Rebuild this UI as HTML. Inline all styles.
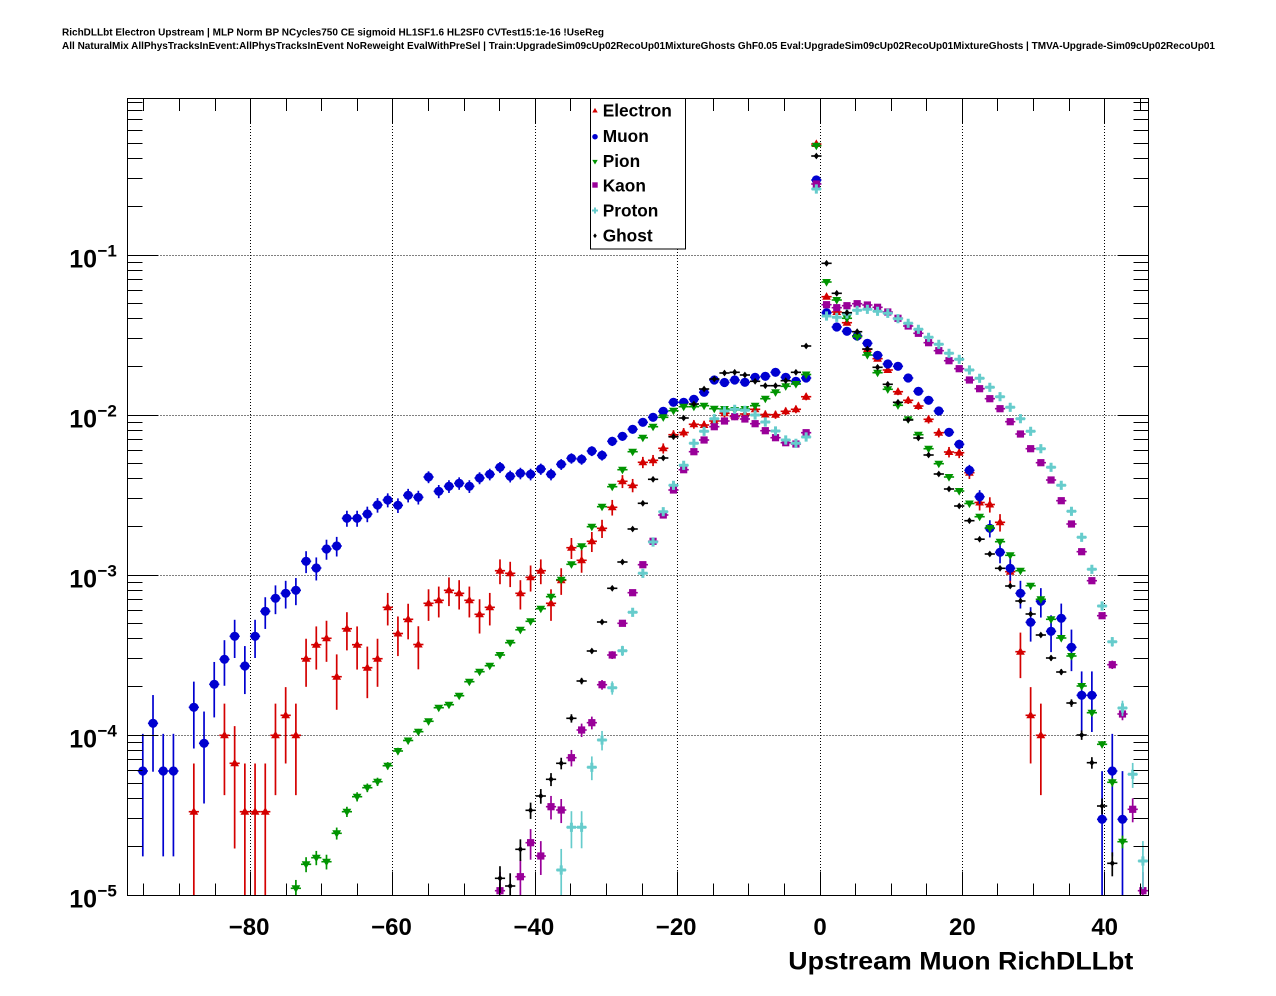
<!DOCTYPE html>
<html><head><meta charset="utf-8">
<style>
html,body{margin:0;padding:0;background:#fff;}
svg{display:block;}
text{font-family:"Liberation Sans",Arial,sans-serif;font-weight:bold;fill:#000;}
</style></head><body>
<svg id="c" width="1276" height="996" viewBox="0 0 1276 996" xmlns="http://www.w3.org/2000/svg">
<defs><clipPath id="fr"><rect x="127.5" y="99" width="1021" height="796.5"/></clipPath></defs>
<rect width="1276" height="996" fill="#fff"/>
<text x="62" y="35.5" font-size="10" textLength="542" lengthAdjust="spacingAndGlyphs">RichDLLbt Electron Upstream | MLP Norm BP NCycles750 CE sigmoid HL1SF1.6 HL2SF0 CVTest15:1e-16 !UseReg</text>
<text x="62" y="49" font-size="10" textLength="1153" lengthAdjust="spacingAndGlyphs">All NaturalMix AllPhysTracksInEvent:AllPhysTracksInEvent NoReweight EvalWithPreSel | Train:UpgradeSim09cUp02RecoUp01MixtureGhosts GhF0.05 Eval:UpgradeSim09cUp02RecoUp01MixtureGhosts | TMVA-Upgrade-Sim09cUp02RecoUp01</text>
<g id="grid" shape-rendering="crispEdges"></g>
<g id="data" clip-path="url(#fr)"></g>
<g id="axes" shape-rendering="crispEdges"></g>
<g id="labels"></g>
<text x="788.3" y="969.3" font-size="25" textLength="345" lengthAdjust="spacingAndGlyphs">Upstream Muon RichDLLbt</text>
<g id="legend">
<rect x="590.5" y="98.5" width="95" height="150.5" fill="#fff" stroke="#000" stroke-width="1"/>
<text x="602.7" y="116.7" font-size="17.3">Electron</text>
<text x="602.7" y="142" font-size="17.3">Muon</text>
<text x="602.7" y="167" font-size="17.3">Pion</text>
<text x="602.7" y="191.7" font-size="17.3">Kaon</text>
<text x="602.7" y="216.7" font-size="17.3">Proton</text>
<text x="602.7" y="241.7" font-size="17.3">Ghost</text>
</g>
</svg>
<script>
(function(){
const NS="http://www.w3.org/2000/svg";
function el(tag,attrs,parent){const e=document.createElementNS(NS,tag);for(const k in attrs)e.setAttribute(k,attrs[k]);parent.appendChild(e);return e;}
const X0=127.5,BW=10.205,YB=895,PD=160,FT=99,FB=895.5,FL=127.5,FR=1148.5;
function bx(i){return X0+(i+0.5)*BW;}
function yv(y){return Math.pow(10,-5+(YB-y)/PD);}
function vy(v){return YB-(Math.log10(v)+5)*PD;}
function xv(v){return 820+7.117*v;}
function px(v){return Math.round(v-0.5)+0.5;}
const grid=document.getElementById('grid'),data=document.getElementById('data'),axes=document.getElementById('axes'),labels=document.getElementById('labels'),legend=document.getElementById('legend');

// grid
[-80,-60,-40,-20,0,20,40].forEach(v=>{const x=px(xv(v));el('line',{x1:x,y1:FT,x2:x,y2:FB,stroke:'#000','stroke-width':1,'stroke-dasharray':'1 2'},grid);});
for(let d=-5;d<=-1;d++){const y=px(YB-(d+5)*PD);el('line',{x1:FL,y1:y,x2:FR,y2:y,stroke:'#000','stroke-width':1,'stroke-dasharray':'1 2'},grid);}

function marker(type,x,y,color,s,parent){
  s=s||1;
  if(type==='tu'){el('polygon',{points:`${x},${y-4.6*s} ${x-4.4*s},${y+3*s} ${x+4.4*s},${y+3*s}`,fill:color},parent);}
  else if(type==='td'){el('polygon',{points:`${x-4.4*s},${y-3*s} ${x+4.4*s},${y-3*s} ${x},${y+4.6*s}`,fill:color},parent);}
  else if(type==='c'){el('circle',{cx:x,cy:y,r:4.6*s,fill:color},parent);}
  else if(type==='sq'){el('rect',{x:x-3.6*s,y:y-3.6*s,width:7.2*s,height:7.2*s,fill:color},parent);}
  else if(type==='pl'){el('path',{d:`M${x-4.6*s},${y-1.5*s}h${3.1*s}v${-3.1*s}h${3*s}v${3.1*s}h${3.1*s}v${3*s}h${-3.1*s}v${3.1*s}h${-3*s}v${-3.1*s}h${-3.1*s}z`,fill:color},parent);}
  else if(type==='dm'){el('polygon',{points:`${x},${y-3.4*s} ${x+2.6*s},${y} ${x},${y+3.4*s} ${x-2.6*s},${y}`,fill:color},parent);}
}

function series(start,arr,w,color,type){
  const g=el('g',{},data);
  arr.forEach((y,k)=>{
    if(!y)return;
    const i=start+k,x=bx(i),v=yv(y),s=Math.sqrt(v*w);
    const yt=vy(v+s);
    const yb=(v-s)>1e-8?vy(v-s):FB+5;
    el('line',{x1:x,y1:yt,x2:x,y2:yb,stroke:color,'stroke-width':1.7},g);
    el('line',{x1:x-BW/2,y1:y,x2:x+BW/2,y2:y,stroke:color,'stroke-width':1.6},g);
    marker(type,x,y,color,1,g);
  });
}

const E=[811.7,0,0,735.3,763.3,811.7,811.7,811.7,735.3,715.3,735.3,658.7,644.7,638.3,676.7,628.7,644.7,667.7,658.7,607.3,633.5,619.3,644.5,603.3,600.3,590.3,593.3,600.3,614.3,607.3,570.7,573.3,593.3,577.3,570.7,603.3,580.3,547.7,560.3,541.3,528.3,507.3,481.3,485.3,462.3,460.3,448.3,434.7,432.5,424.3,425,421,413.3,416,414,409.3,414.5,414.7,411.3,409.3,396.7,144,296.7,312,322.7,336,349.3,358.7,370,391.7,400.3,406,419.3,432.7,452,452.7,472.7,502.5,504.5,522.3,571.7,651.7,715.3,735.3];
const M=[771,723.3,771,771,0,707.3,743.3,684.3,659.3,636.3,666,636.3,611.3,598.3,593.3,590.3,561.3,568,549,546,518.3,518.3,514,505,500,505.3,495.3,497.3,477,491.3,486.3,483.3,486.3,478,474.3,467.3,476.3,473.3,474.3,469,474.3,464.3,458.3,459.3,451,455.3,441.3,436.3,429.3,422.3,417.3,411.3,402.3,402.3,399.3,392.3,380,382.5,380,382.3,377.3,376.3,372.3,377.3,381.3,378,180,312.7,327,331.3,336,343.3,355.3,364,366.3,378,391.3,400.3,411,432.3,444.3,470.3,496.7,528.3,552.3,568.3,593.3,622.3,601.3,631.3,618.3,647.3,695.3,695.3,819.3,771,819.3];
const P=[888.3,864.3,857.7,861.7,833.3,811.7,796.7,787.7,781.7,765.7,751,740.5,731.7,721.3,707.7,704.7,695.7,681.7,671.7,665.7,655,642.7,629.8,621.3,608.7,596.7,579.7,564.3,546.3,526.7,506.7,486.7,469.7,451.7,437.7,426.7,417.3,410.7,406.7,406.7,405.7,408.7,409,410,409,405.7,398.7,392.3,386.3,384,374.5,145.7,282,300,318.3,336.7,355,372.7,389.3,405.3,419.3,434.7,448.7,463.7,477,491,503.5,516.7,528,541.7,555.3,570.7,585.7,599.3,619.3,638,656,686,712.7,744.3,782.3,841.7];
const K=[890.7,0,876.7,842.7,856,806.7,810,757.7,730,722.7,684.7,655,623.3,592.7,564.7,541.3,515,490,469.7,451.7,440,426.7,421,416.7,419,423.7,430.7,437.7,442.7,444,432.7,184,304.7,307.7,305.7,303.7,305,307.3,312,318.3,326,333.3,342.7,350.7,360.7,368.7,380,388.7,398.7,408.7,421.7,434,448.7,462.7,480,500.7,524,551.7,580.7,615.7,664.7,714,809.3,890.7];
const PR=[870,827.3,827.3,767.3,740,687.7,650.7,612.3,573.3,542,511.7,485.3,465.3,443.3,431.3,418.7,411,409.3,410.3,415,422,431,440,443.3,437,189,316,317.3,314,310.3,309.3,311.3,313.3,318.7,323.3,329.3,337.3,344.3,353.3,359.3,370,378.3,387.3,396.7,407.3,418.7,431.3,448.7,467.3,485.3,511.3,537.3,569.3,606,641.7,708,774.3,861];
const G=[878.3,886,849.3,810.3,796,779.3,763.3,718.3,681,651,622,588.3,562,529,503.3,479.3,458,436.7,418,404,389,379,373,372.3,375,381.3,385.7,385.7,380.7,372.3,346,156,263.3,293.3,312.7,331.7,349,367.3,384.3,402.3,420,438,455,474,489,506,520.7,539.2,554,568.3,586,601,614,635,658,672,703,735,762.7,806,863.3];

const CE='#d40000',CM='#0000d0',CP='#009400',CK='#990099',CC='#66cccc',CG='#000000';
series(6,E,3.32e-5,CE,'tu');
series(1,M,2.98e-5,CM,'c');
series(16,P,1.8e-7,CP,'td');
series(36,K,1.0e-6,CK,'sq');
series(42,PR,1.8e-6,CC,'pl');
series(36,G,4.6e-7,CG,'dm');

// frame
el('rect',{x:FL,y:FT-0.5,width:FR-FL,height:FB-FT+0.5,fill:'none',stroke:'#000','stroke-width':1.2},axes);
// x ticks
for(let v=-95;v<=45;v+=5){
  const x=px(xv(v));const maj=(v%20===0);const L=maj?24:12;
  el('line',{x1:x,y1:FB,x2:x,y2:FB-L,stroke:'#000','stroke-width':1},axes);
  el('line',{x1:x,y1:FT,x2:x,y2:FT+L,stroke:'#000','stroke-width':1},axes);
}
// y ticks
for(let d=-5;d<=-1;d++){
  for(let m=1;m<=9;m++){
    const y0=YB-(d+5+Math.log10(m))*PD;
    if(y0<FT||y0>FB+0.5)continue;
    const y=px(y0);
    const L=(m===1)?31:15;
    el('line',{x1:FL,y1:y,x2:FL+L,y2:y,stroke:'#000','stroke-width':1},axes);
    el('line',{x1:FR,y1:y,x2:FR-L,y2:y,stroke:'#000','stroke-width':1},axes);
  }
}
// y labels
for(let d=-5;d<=-1;d++){
  const y=YB-(d+5)*PD;
  const t=el('text',{x:97,y:y+12.3,'font-size':25,'text-anchor':'end'},labels);t.textContent='10';
  const s=el('text',{x:97.5,y:y+1.7,'font-size':17},labels);s.textContent='\u2212'+(-d);
}
// x labels
[-80,-60,-40,-20,0,20,40].forEach(v=>{
  const t=el('text',{x:xv(v)-(v<0?1.5:0),y:935,'font-size':24,'text-anchor':'middle'},labels);
  t.textContent=(v<0?'\u2212':'')+Math.abs(v);
});
// legend markers
const lx=595;
marker('tu',lx,110.7,CE,0.62,legend);
marker('c',lx,136.7,CM,0.6,legend);
marker('td',lx,161.7,CP,0.62,legend);
marker('sq',lx,185,CK,0.75,legend);
marker('pl',lx,210.5,CC,0.65,legend);
marker('dm',lx,235.7,CG,0.7,legend);
})();
</script>
</body></html>
